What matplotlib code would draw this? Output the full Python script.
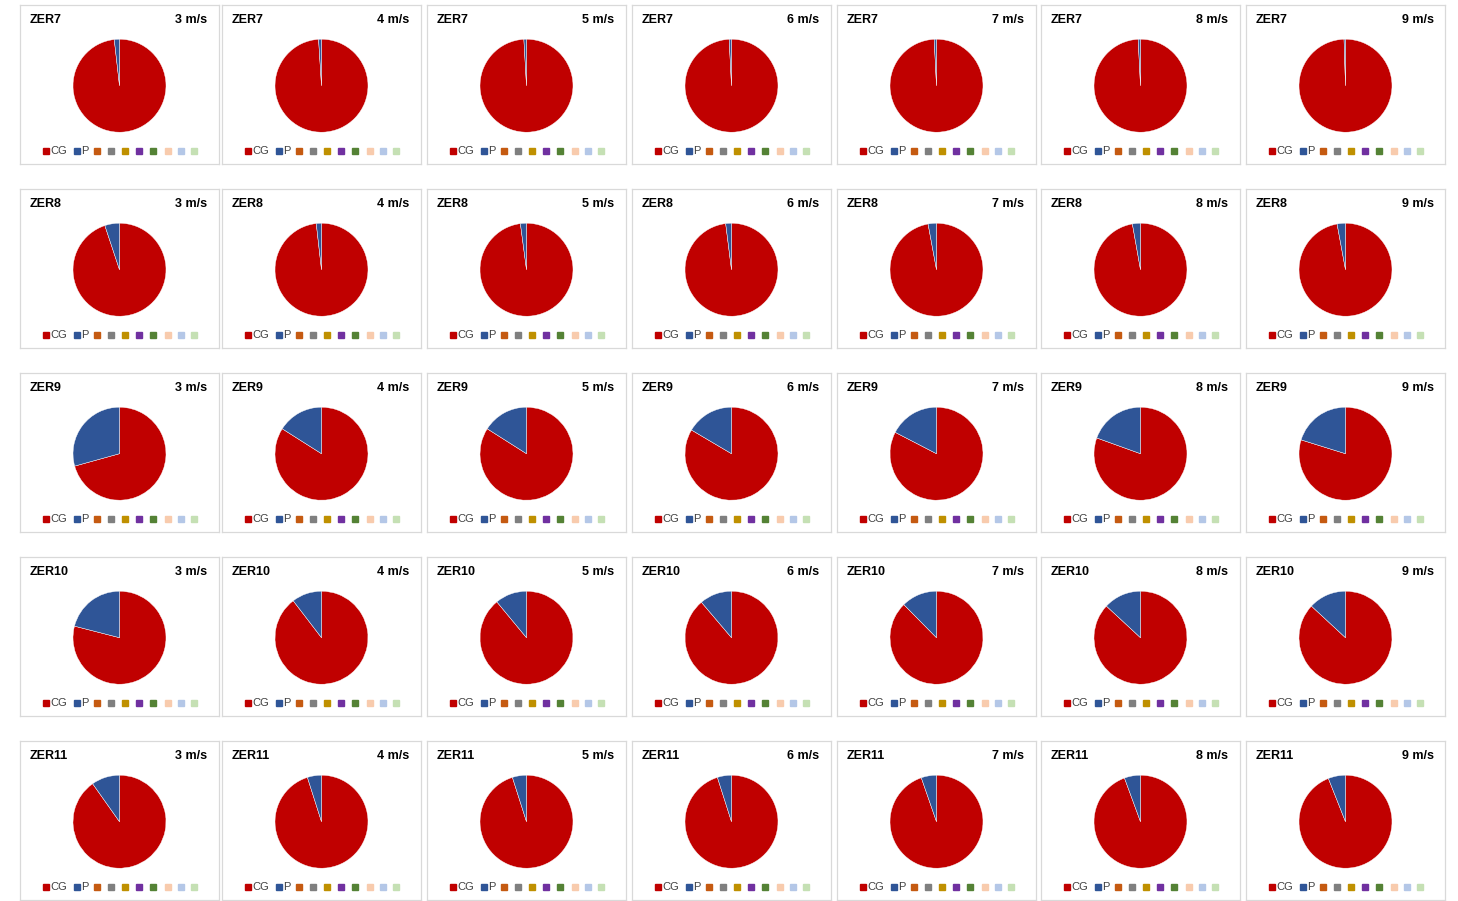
import matplotlib
matplotlib.use("Agg")
import matplotlib.pyplot as plt

plt.rcParams["font.family"] = ["Liberation Sans", "DejaVu Sans"]

# ── Data (share of P in %, CG = remainder) ───────────────────────────────────
sites  = ["ZER7", "ZER8", "ZER9", "ZER10", "ZER11"]
speeds = ["3 m/s", "4 m/s", "5 m/s", "6 m/s", "7 m/s", "8 m/s", "9 m/s"]

p_zer7  = [1.8, 1.0, 0.9, 0.8, 0.8, 0.8, 0.5]
p_zer8  = [5.1, 1.8, 2.1, 2.0, 2.9, 2.8, 2.9]
p_zer9  = [29.3, 16.0, 16.0, 16.5, 17.4, 19.5, 20.2]
p_zer10 = [21.0, 10.4, 11.0, 11.2, 12.4, 13.1, 13.1]
p_zer11 = [9.8, 4.9, 4.9, 4.9, 5.3, 5.6, 6.0]
p_share = [p_zer7, p_zer8, p_zer9, p_zer10, p_zer11]

series_names  = ["CG", "P", "", "", "", "", "", "", "", ""]
series_colors = ["#C00000", "#2F5597", "#C55A11", "#7F7F7F", "#BF9000",
                 "#7030A0", "#548235", "#F8CBAD", "#B4C7E7", "#C5E0B4"]

# ── Layout (pixels) ──────────────────────────────────────────────────────────
W, H = 1458, 901
col_left = [20, 222, 427, 632, 837, 1041, 1246]
row_top  = [5, 189, 373, 557, 741]
BOX_W, BOX_H = 199, 159
PIE_CX, PIE_CY, PIE_R = 99.5, BOX_H - 80.7, 46.5
LEG_Y = 13.3
leg_marker_x = [25.8, 56.5, 77.2, 91.3, 105.0, 119.2, 133.3, 147.5, 160.8, 174.2]
leg_text_x   = {0: 30.3, 1: 61.5}

fig = plt.figure(figsize=(W / 100, H / 100), dpi=100)

for r, site in enumerate(sites):
    for c, speed in enumerate(speeds):
        ax = fig.add_axes([col_left[c] / W, 1 - (row_top[r] + BOX_H) / H,
                           BOX_W / W, BOX_H / H])
        p = p_share[r][c]
        ax.pie([100 - p, p], colors=series_colors[:2], startangle=90,
               counterclock=False, center=(PIE_CX, PIE_CY), radius=PIE_R,
               frame=True, wedgeprops=dict(linewidth=0.3, edgecolor="white"))
        ax.set_xlim(0, BOX_W)
        ax.set_ylim(0, BOX_H)
        ax.set_aspect("auto")
        ax.set_xticks([])
        ax.set_yticks([])
        for sp in ax.spines.values():
            sp.set_color("#D9D9D9")
            sp.set_linewidth(0.9)

        ax.text(9.5, BOX_H - 14.7, site, fontsize=9, fontweight="bold",
                ha="left", va="center", color="#000000")
        ax.text(187.5, BOX_H - 14.7, speed, fontsize=9, fontweight="bold",
                ha="right", va="center", color="#000000")

        # legend row
        for k, (name, col) in enumerate(zip(series_names, series_colors)):
            ax.plot(leg_marker_x[k], LEG_Y, marker="s", markersize=4,
                    color=col, linestyle="none", clip_on=False)
            if name:
                ax.text(leg_text_x[k], LEG_Y, name, fontsize=8,
                        ha="left", va="center", color="#404040")

fig.savefig("out.png", dpi=100, facecolor="white")
